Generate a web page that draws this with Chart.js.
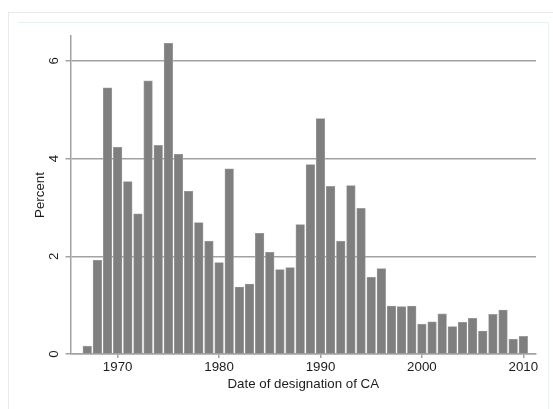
<!DOCTYPE html>
<html lang="en">
<head>
    <meta charset="UTF-8"/>
    <title>Date of designation of CA</title>
    <style>
        html, body {
            margin: 0;
            padding: 0;
            background: #fff;
            overflow: hidden;
        }

        #wrap {
            position: relative;
            width: 553px;
            height: 409px;
        }

        #outer {
            position: absolute;
            left: 8px;
            top: 12px;
            right: 0;
            bottom: 0;
            border-top: 1px solid #e9e9e9;
            border-left: 1px solid #e9e9e9;
        }

        #inner {
            position: absolute;
            left: 18px;
            top: 22px;
            width: 530px;
            bottom: 0;
            border-top: 1px solid #e8f0f0;
            border-right: 1px solid #e8f0f0;
        }

        canvas {
            position: absolute;
            left: 0;
            top: 0;
        }
    </style>
    <script src="https://cdn.jsdelivr.net/npm/chart.js@4/dist/chart.umd.min.js"></script>
</head>
<body>
<div id="wrap">
    <div id="outer"></div>
    <div id="inner"></div>
    <canvas id="hist" width="553" height="409"></canvas>
</div>

<script>
    // Data
    const YEARS = [
        1967, 1968, 1969, 1970, 1971, 1972, 1973, 1974, 1975, 1976,
        1977, 1978, 1979, 1980, 1981, 1982, 1983, 1984, 1985, 1986,
        1987, 1988, 1989, 1990, 1991, 1992, 1993, 1994, 1995, 1996,
        1997, 1998, 1999, 2000, 2001, 2002, 2003, 2004, 2005, 2006,
        2007, 2008, 2009, 2010
    ];
    const PERCENT = [
        0.16, 1.92, 5.45, 4.23, 3.53, 2.87, 5.59, 4.27, 6.36, 4.09,
        3.33, 2.69, 2.31, 1.87, 3.79, 1.37, 1.43, 2.47, 2.08, 1.73,
        1.77, 2.65, 3.88, 4.82, 3.43, 2.31, 3.45, 2.98, 1.57, 1.75,
        0.98, 0.97, 0.98, 0.61, 0.66, 0.82, 0.56, 0.65, 0.73, 0.47,
        0.81, 0.90, 0.30, 0.36
    ];
    const X_TICKS = [1970, 1980, 1990, 2000, 2010];
    const Y_TICKS = [0, 2, 4, 6];

    const TEXT = '#1c1c1c';
    const LINE = '#a2a2a2';
    const FONT = '"Liberation Sans", Arial, sans-serif';

    // Stata draws the y labels turned on their side
    const sideLabels = {
        id: 'sideLabels',
        afterDraw(chart) {
            const y = chart.scales.y;
            const ctx = chart.ctx;
            ctx.save();
            ctx.font = '13.3px ' + FONT;
            ctx.fillStyle = TEXT;
            ctx.textAlign = 'center';
            ctx.textBaseline = 'middle';
            y.ticks.forEach(t => {
                ctx.save();
                ctx.translate(54, y.getPixelForValue(t.value));
                ctx.rotate(-Math.PI / 2);
                ctx.fillText(String(t.value), 0, 0);
                ctx.restore();
            });
            ctx.restore();
        }
    };

    new Chart(document.getElementById('hist'), {
        type: 'bar',
        data: {
            datasets: [{
                data: YEARS.map((yr, i) => ({x: yr, y: PERCENT[i]})),
                backgroundColor: '#7f7f7f',
                borderColor: '#9c9c9c',
                borderWidth: 0.8,
                barThickness: 8.6
            }]
        },
        options: {
            responsive: false,
            animation: false,
            layout: {padding: {left: 0, right: 17, top: 36, bottom: 0}},
            plugins: {
                legend: {display: false},
                tooltip: {enabled: false}
            },
            scales: {
                x: {
                    type: 'linear',
                    min: 1965.35,
                    max: 2011.25,
                    offset: false,
                    afterBuildTicks: s => {
                        s.ticks = X_TICKS.map(v => ({value: v}));
                    },
                    afterFit: s => {
                        s.height = 55;
                    },
                    grid: {
                        offset: false,
                        drawOnChartArea: false,
                        drawTicks: true,
                        tickLength: 4,
                        color: LINE,
                        lineWidth: 1.5
                    },
                    border: {color: LINE, width: 1.5},
                    ticks: {
                        color: TEXT,
                        font: {family: FONT, size: 13.3},
                        padding: 1,
                        maxRotation: 0,
                        autoSkip: false,
                        callback: v => String(v)
                    },
                    title: {
                        display: true,
                        text: 'Date of designation of CA',
                        color: TEXT,
                        font: {family: FONT, size: 13.3},
                        padding: {top: 0, bottom: 16.5}
                    }
                },
                y: {
                    min: 0,
                    max: 6.51,
                    afterBuildTicks: s => {
                        s.ticks = Y_TICKS.map(v => ({value: v}));
                    },
                    afterFit: s => {
                        s.width = 70.5;
                    },
                    grid: {
                        drawTicks: true,
                        tickLength: 5,
                        color: LINE,
                        lineWidth: 1.5
                    },
                    border: {color: LINE, width: 1.5},
                    ticks: {display: false},
                    title: {
                        display: true,
                        text: 'Percent',
                        color: TEXT,
                        font: {family: FONT, size: 13.3},
                        padding: {top: 32, bottom: 0}
                    }
                }
            }
        },
        plugins: [sideLabels]
    });
</script>
</body>
</html>
